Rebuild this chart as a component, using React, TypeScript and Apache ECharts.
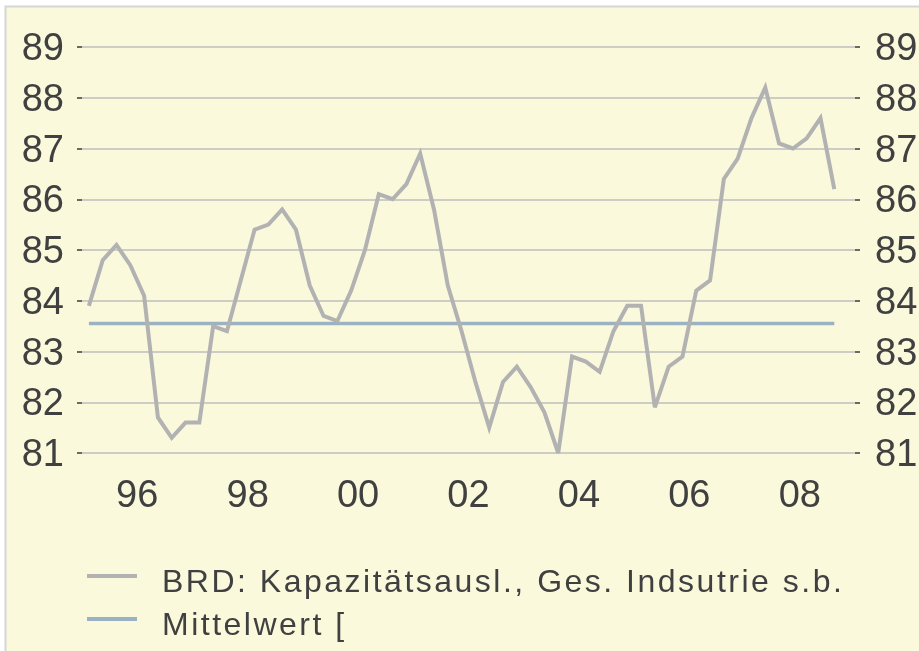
import React, { useEffect, useRef } from "react";
import * as echarts from "echarts";

// Quarterly data, first observation 1995 Q3
const startYear = 1995;
const startQuarter = 3;

const capacityUtilization = [
  83.9, 84.8, 85.1, 84.7, 84.1, 81.7, 81.3, 81.6, 81.6, 83.5,
  83.4, 84.4, 85.4, 85.5, 85.8, 85.4, 84.3, 83.7, 83.6, 84.2,
  85.0, 86.1, 86.0, 86.3, 86.9, 85.8, 84.3, 83.4, 82.4, 81.5,
  82.4, 82.7, 82.3, 81.8, 81.0, 82.9, 82.8, 82.6, 83.4, 83.9,
  83.9, 81.9, 82.7, 82.9, 84.2, 84.4, 86.4, 86.8, 87.6, 88.2,
  87.1, 87.0, 87.2, 87.6, 86.2,
];

const meanLevel = [83.55, 83.55];

const xLabelYears = [1996, 1998, 2000, 2002, 2004, 2006, 2008];
const yMin = 81;
const yMax = 89;

const seriesNames = ["BRD: Kapazitätsausl., Ges. Indsutrie s.b.", "Mittelwert ["];

const FONT = "'Liberation Sans', Arial, Helvetica, sans-serif";

// legend marker: a 4px bar at the top of a 14px high box (text sits lower)
const LEGEND_ICON = "path://M0,0L50,0L50,4L0,4Z M0,13.95L0.05,13.95L0.05,14L0,14Z";

// position of a quarter on the x value axis (integer = middle of year)
function quarterPos(i: number): number {
  const q0 = startQuarter - 1 + i;
  const year = startYear + Math.floor(q0 / 4);
  const q = q0 % 4;
  return year + q / 4 - 0.375;
}

export default function App() {
  const ref = useRef<HTMLDivElement>(null);

  useEffect(() => {
    if (!ref.current) return;
    const el = ref.current;
    const chart = echarts.init(el, undefined, { renderer: "svg" });
    const n = capacityUtilization.length;
    const yAxisCommon = {
      type: "value",
      min: yMin,
      max: yMax,
      interval: 1,
      axisLine: { show: false },
      axisTick: { show: true, length: 5, lineStyle: { color: "#3a3a3a", width: 1.5 } },
    };
    const spaceLegend = () => {
      el.querySelectorAll("text").forEach((t) => {
        if (seriesNames.includes((t.textContent || "").trim())) {
          (t as SVGTextElement).style.letterSpacing = "2.5px";
        }
      });
    };
    chart.on("finished", spaceLegend);
    chart.setOption({
      animation: false,
      backgroundColor: "transparent",
      textStyle: { fontFamily: FONT },
      graphic: [
        {
          type: "rect",
          z: -100,
          silent: true,
          shape: { x: 5.5, y: 6.5, width: 960, height: 700 },
          style: { fill: "#FAF9DC", stroke: "#D6D6D6", lineWidth: 2 },
        },
      ],
      grid: {
        left: 82,
        right: 64,
        top: 47,
        bottom: 198,
        containLabel: false,
        outerBoundsMode: "none",
      },
      xAxis: {
        type: "value",
        min: xLabelYears[0] - 1,
        max: xLabelYears[xLabelYears.length - 1] + 1,
        interval: 1,
        axisLine: { show: false },
        axisTick: { show: false },
        splitLine: { show: false },
        axisLabel: {
          margin: 22,
          fontSize: 38,
          color: "#404040",
          fontFamily: FONT,
          formatter: (v: number) =>
            xLabelYears.includes(Math.round(v)) ? String(Math.round(v) % 100).padStart(2, "0") : "",
        },
      },
      yAxis: [
        {
          ...yAxisCommon,
          position: "left",
          splitLine: { show: true, lineStyle: { color: "#BEBEBE", width: 1.5 } },
          axisLabel: { margin: 18, fontSize: 38, color: "#404040", fontFamily: FONT },
        },
        {
          ...yAxisCommon,
          position: "right",
          splitLine: { show: false },
          axisLabel: { margin: 20, fontSize: 38, color: "#404040", fontFamily: FONT },
        },
      ],
      legend: {
        orient: "vertical",
        left: 82,
        top: 560,
        itemWidth: 50,
        itemHeight: 14,
        itemGap: 11,
        icon: LEGEND_ICON,
        data: seriesNames,
        textStyle: {
          fontSize: 32,
          color: "#404040",
          fontFamily: FONT,
          padding: [0, 0, 0, 20],
        },
      },
      series: [
        {
          type: "line",
          name: seriesNames[1],
          z: 2,
          symbol: "none",
          data: [
            [quarterPos(0), meanLevel[0]],
            [quarterPos(n - 1), meanLevel[1]],
          ],
          lineStyle: { color: "#9BB2C4", width: 3.5 },
          itemStyle: { color: "#9BB2C4" },
        },
        {
          type: "line",
          name: seriesNames[0],
          z: 3,
          symbol: "none",
          data: capacityUtilization.map((v, i) => [quarterPos(i), v]),
          lineStyle: { color: "#B2B2B2", width: 4, join: "miter" },
          itemStyle: { color: "#B2B2B2" },
        },
      ],
    });
    spaceLegend();
    const raf = requestAnimationFrame(spaceLegend);
    return () => {
      cancelAnimationFrame(raf);
      chart.dispose();
    };
  }, []);

  return (
    <div
      ref={ref}
      style={{ position: "fixed", left: 0, top: 0, width: 919, height: 651 }}
    />
  );
}
